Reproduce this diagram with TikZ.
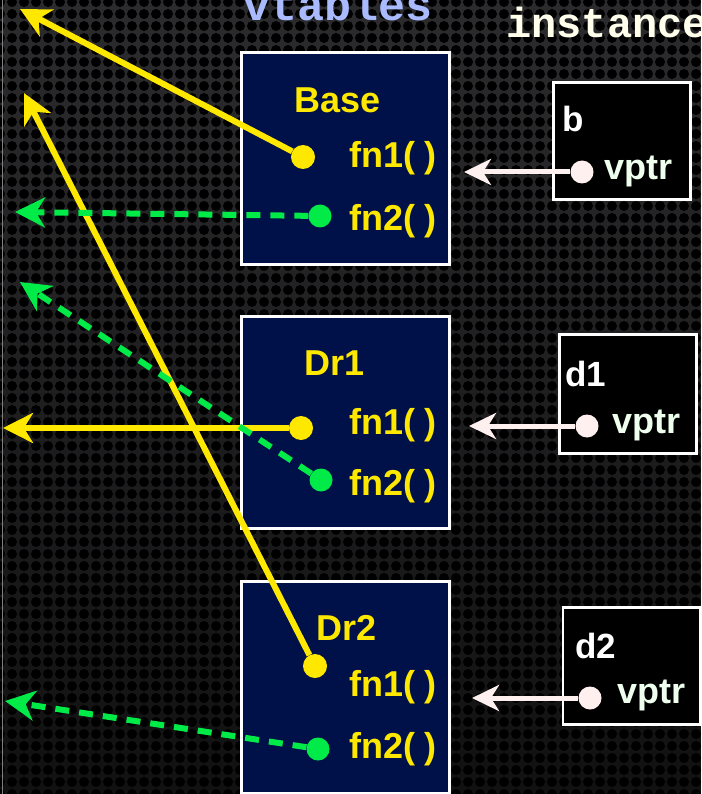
\documentclass[tikz,border=0pt]{standalone}
\usepackage{fontspec}
\setmainfont{Liberation Sans}
\newfontfamily\codefont{Liberation Mono}
\usetikzlibrary{arrows.meta,patterns.meta,fadings}

\definecolor{bggray}{RGB}{44,44,46}
\definecolor{navybox}{RGB}{0,16,72}
\definecolor{fnyellow}{RGB}{255,232,0}
\definecolor{fngreen}{RGB}{0,234,72}
\definecolor{ptrwhite}{RGB}{255,240,240}
\definecolor{ptrtext}{RGB}{238,255,238}
\definecolor{vtblue}{RGB}{170,186,255}
\definecolor{insttext}{RGB}{255,255,236}

\tikzfading[name=fadedown, top color=transparent!100, bottom color=transparent!40]

\begin{document}
\begin{tikzpicture}[x=1pt,y=-1pt,
    vtable/.style={draw=white, line width=3pt, fill=navybox, minimum width=208pt, minimum height=212pt, inner sep=0pt},
    instbox/.style={draw=white, line width=2.5pt, fill=black, minimum width=137pt, minimum height=117pt, inner sep=0pt},
    clsname/.style={text=fnyellow, inner sep=0pt, font=\fontsize{36}{40}\selectfont\bfseries},
    fnname/.style={text=fnyellow, inner sep=0pt, font=\fontsize{36}{40}\selectfont\bfseries},
    varname/.style={text=white, inner sep=0pt, font=\fontsize{35}{40}\selectfont\bfseries},
    ptrname/.style={text=ptrtext, inner sep=0pt, font=\fontsize{36}{40}\selectfont\bfseries},
    ydot/.style={circle, fill=fnyellow, minimum size=24pt, inner sep=0pt},
    gdot/.style={circle, fill=fngreen, minimum size=23pt, inner sep=0pt},
    wdot/.style={circle, fill=ptrwhite, minimum size=23pt, inner sep=0pt},
    yptr/.style={draw=fnyellow, line width=6pt, -{Stealth[length=30pt,width=30pt,inset=9pt]}},
    gptr/.style={draw=fngreen, line width=6pt, dash pattern=on 14pt off 10pt, -{Stealth[length=30pt,width=30pt,inset=9pt]}},
    wptr/.style={draw=ptrwhite, line width=5pt, -{Stealth[length=27pt,width=26pt,inset=8pt]}},
    heading/.style={anchor=base west, inner sep=0pt, font=\codefont\bfseries},
    ]

    \useasboundingbox (0,0) rectangle (701,794);
    \clip (0,0) rectangle (701,794);
    \fill[bggray] (0,0) rectangle (701,794);
    \fill[pattern={Dots[distance=12pt,radius=5pt]}, pattern color=black] (0,0) rectangle (701,794);
    \fill[black, path fading=fadedown] (0,0) rectangle (701,794);
    \draw[gray, line width=1pt] (2,0) -- (2,794);

    \node[heading, text=vtblue, font=\codefont\bfseries\fontsize{45}{48}\selectfont] (vt) at (243,21) {vtables};
    \node[heading, text=insttext, font=\codefont\bfseries\fontsize{42}{44}\selectfont] (in) at (506,38) {instance};

    \node[vtable] (base) at (345.5,158.5) {};
    \node[vtable] (dr1) at (345.5,422.5) {};
    \node[vtable] (dr2) at (345.5,687.5) {};

    \node[clsname] (basename) at (338,100) {Base};
    \node[fnname] (basefa) at (393,158) {fn1( )};
    \node[fnname] (basefb) at (393,221) {fn2( )};
    \node[clsname] (dra) at (335,363) {Dr1};
    \node[fnname] (drafa) at (393,425) {fn1( )};
    \node[fnname] (drafb) at (393,486) {fn2( )};
    \node[clsname] (drb) at (347,628) {Dr2};
    \node[fnname] (drbfa) at (393,687) {fn1( )};
    \node[fnname] (drbfb) at (393,749) {fn2( )};

    \node[ydot] (basefadot) at (303,157) {};
    \node[gdot] (basefbdot) at (320,216) {};
    \node[ydot] (drafadot) at (301,428) {};
    \node[gdot] (drafbdot) at (321,480) {};
    \node[ydot] (drbfadot) at (315,666) {};
    \node[gdot] (drbfbdot) at (318,749) {};

    \coordinate (basefatip) at (20,9);
    \coordinate (drbfatip) at (24,93);
    \coordinate (drafatip) at (3,428);
    \coordinate (basefbtip) at (15,212);
    \coordinate (drafbtip) at (20,282);
    \coordinate (drbfbtip) at (5,701);

    \draw[yptr] (basefadot) -- (basefatip);
    \draw[yptr] (drafadot) -- (drafatip);
    \draw[yptr] (drbfadot) -- (drbfatip);
    \draw[gptr] (basefbdot) -- (basefbtip);
    \draw[gptr] (drafbdot) -- (drafbtip);
    \draw[gptr] (drbfbdot) -- (drbfbtip);

    \node[instbox] (b) at (622,141) {};
    \node[instbox, minimum height=119pt] (d1) at (628,394) {};
    \node[instbox] (d2) at (631.5,666) {};

    \node[varname] (bname) at (573,119) {b};
    \node[varname] (daname) at (586,374) {d1};
    \node[varname] (dbname) at (596,646) {d2};
    \node[ptrname] (bvptr) at (638,171) {vptr};
    \node[ptrname] (davptr) at (646,425) {vptr};
    \node[ptrname] (dbvptr) at (651,695) {vptr};

    \node[wdot] (bdot) at (582,172) {};
    \node[wdot] (dadot) at (587,426) {};
    \node[wdot] (dbdot) at (590,698) {};

    \coordinate (btip) at (464,172);
    \coordinate (datip) at (469,426);
    \coordinate (dbtip) at (472,698);

    \draw[wptr] (bdot) -- (btip);
    \draw[wptr] (dadot) -- (datip);
    \draw[wptr] (dbdot) -- (dbtip);
\end{tikzpicture}
\end{document}
